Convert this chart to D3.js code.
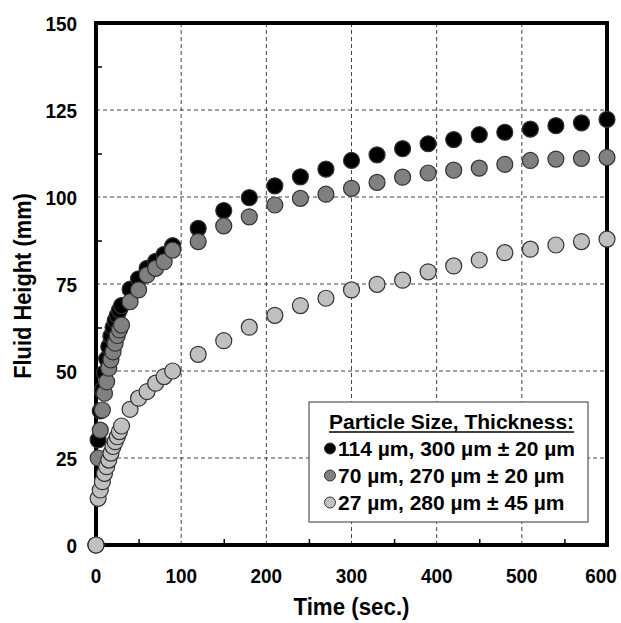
<!DOCTYPE html>
<html><head><meta charset="utf-8">
<script src="https://cdn.jsdelivr.net/npm/d3@7"></script>
<style>
body{margin:0;background:#fff;}
text{font-family:"Liberation Sans",Arial,sans-serif;font-weight:bold;}
</style></head>
<body><svg id="c" width="621" height="623"></svg>
<script>
// ---- data ----
const timesEarly = [0, 2.5, 5, 7.5, 10, 12.5, 15, 17.5, 20, 22.5, 25, 27.5, 30, 40, 50, 60, 70, 80, 90];
const timesLate = [120, 150, 180, 210, 240, 270, 300, 330, 360, 390, 420, 450, 480, 510, 540, 570, 600];
const times = timesEarly.concat(timesLate);

const s114 = [0, 30.2, 38.5, 44.5, 49.5, 53.5, 57, 60, 62.5, 64.5, 66, 67.5, 68.8, 73.5, 76.5, 79.5, 81.5, 83.5, 86,
  91.0, 96.1, 99.8, 103.2, 105.8, 108.0, 110.5, 112.1, 113.9, 115.3, 116.5, 117.9, 118.6, 119.5, 120.5, 121.3, 122.3];
const s70 = [0, 25, 33, 38.8, 43.6, 46.9, 50.8, 53.2, 55.5, 58, 60.2, 61.8, 63.2, 69.9, 73.3, 77.6, 79.5, 81.4, 84.7,
  87.2, 91.7, 94.3, 97.7, 99.6, 100.8, 102.5, 104.2, 105.7, 106.9, 107.7, 108.3, 109.4, 110.5, 110.9, 111.1, 111.4];
const s27 = [0, 13.4, 15.8, 18.2, 20.6, 22.5, 24.4, 26.4, 28.3, 29.7, 31.1, 32.6, 34.2, 39, 42.2, 44.1, 46.5, 48.4, 50,
  54.8, 58.7, 62.6, 66.0, 68.8, 70.9, 73.3, 74.9, 76.1, 78.5, 80.2, 81.9, 84.0, 85.0, 86.2, 87.2, 87.9];

const seriesNames = ["114 µm, 300 µm ± 20 µm", "70 µm, 270 µm ± 20 µm", "27 µm, 280 µm ± 45 µm"];
const seriesFill = ["#000000", "#808080", "#c0c0c0"];
const seriesData = [s114, s70, s27];
const legendTitle = "Particle Size, Thickness:";

const xMajor = [0, 100, 200, 300, 400, 500, 600];
const xMinor = [50, 150, 250, 350, 450, 550];
const yMajor = [0, 25, 50, 75, 100, 125, 150];
const yMinor = [12.5, 37.5, 62.5, 87.5, 112.5, 137.5];

// ---- chart ----
const svg = d3.select("#c");
const L = 96, R = 607, T = 23, B = 545;
const x = d3.scaleLinear().domain([0, 600]).range([L, R]);
const y = d3.scaleLinear().domain([0, 150]).range([B, T]);

// grid
const grid = svg.append("g").attr("stroke", "#444").attr("stroke-width", 1).attr("stroke-dasharray", "4,3");
grid.selectAll(".vg").data(xMajor.slice(1, -1)).join("line")
  .attr("x1", d => x(d)).attr("x2", d => x(d)).attr("y1", T).attr("y2", B);
grid.selectAll(".hg").data(yMajor.slice(1, -1)).join("line")
  .attr("x1", L).attr("x2", R).attr("y1", d => y(d)).attr("y2", d => y(d));

// tick labels (slightly condensed, tall bold text)
const SX = 0.9;
svg.append("g").selectAll("text").data(xMajor).join("text")
  .attr("transform", d => {
    const px = Math.min(x(d), 621 - 20);
    return `translate(${px},583) scale(${SX},1)`;
  })
  .attr("text-anchor", "middle").attr("font-size", 21).text(d => d3.format("d")(d));
svg.append("g").selectAll("text").data(yMajor).join("text")
  .attr("transform", d => `translate(77,${y(d) + 7.5}) scale(${SX},1)`)
  .attr("text-anchor", "end").attr("font-size", 21).text(d => d3.format("d")(d));

// minor ticks (inside)
const gxm = svg.append("g").attr("transform", `translate(0,${B})`)
  .call(d3.axisBottom(x).tickValues(xMinor).tickSizeInner(-6).tickSizeOuter(0).tickFormat(""));
gxm.select(".domain").remove();
gxm.selectAll("line").attr("stroke", "#000").attr("stroke-width", 1.5);
const gym = svg.append("g").attr("transform", `translate(${L},0)`)
  .call(d3.axisLeft(y).tickValues(yMinor).tickSizeInner(-6).tickSizeOuter(0).tickFormat(""));
gym.select(".domain").remove();
gym.selectAll("line").attr("stroke", "#000").attr("stroke-width", 1.5);

// frame
svg.append("rect").attr("x", L).attr("y", T).attr("width", R - L).attr("height", B - T)
  .attr("fill", "none").attr("stroke", "#000").attr("stroke-width", 4);

// points
seriesData.forEach((vals, i) => {
  svg.append("g").selectAll("circle").data(vals.map((v, j) => [times[j], v])).join("circle")
    .attr("cx", d => x(d[0])).attr("cy", d => y(d[1])).attr("r", 8)
    .attr("fill", seriesFill[i]).attr("stroke", "#333").attr("stroke-width", 1.2);
});

// axis titles
svg.append("text").attr("transform", `translate(${(L + R) / 2},615) scale(0.93,1)`).attr("text-anchor", "middle")
  .attr("font-size", 24).text("Time (sec.)");
svg.append("text").attr("transform", `translate(31,${(T + B) / 2 + 2}) rotate(-90) scale(0.93,1)`).attr("text-anchor", "middle")
  .attr("font-size", 23.5).text("Fluid Height (mm)");

// legend
const lg = svg.append("g");
lg.append("rect").attr("x", 309).attr("y", 402).attr("width", 279).attr("height", 120)
  .attr("fill", "#fff").attr("stroke", "#555").attr("stroke-width", 1.2);
const tt = lg.append("text").attr("x", 329).attr("y", 429).attr("font-size", 21).text(legendTitle);
const tw = tt.node().getComputedTextLength();
lg.append("line").attr("x1", 329).attr("x2", 329 + tw).attr("y1", 432).attr("y2", 432)
  .attr("stroke", "#000").attr("stroke-width", 1.5);
seriesNames.forEach((nm, i) => {
  const yy = 456 + i * 27;
  lg.append("circle").attr("cx", 330).attr("cy", yy - 7.5).attr("r", 5.5)
    .attr("fill", seriesFill[i]).attr("stroke", "#333").attr("stroke-width", 1);
  lg.append("text").attr("x", 338).attr("y", yy).attr("font-size", 21).text(nm);
});
</script></body></html>
